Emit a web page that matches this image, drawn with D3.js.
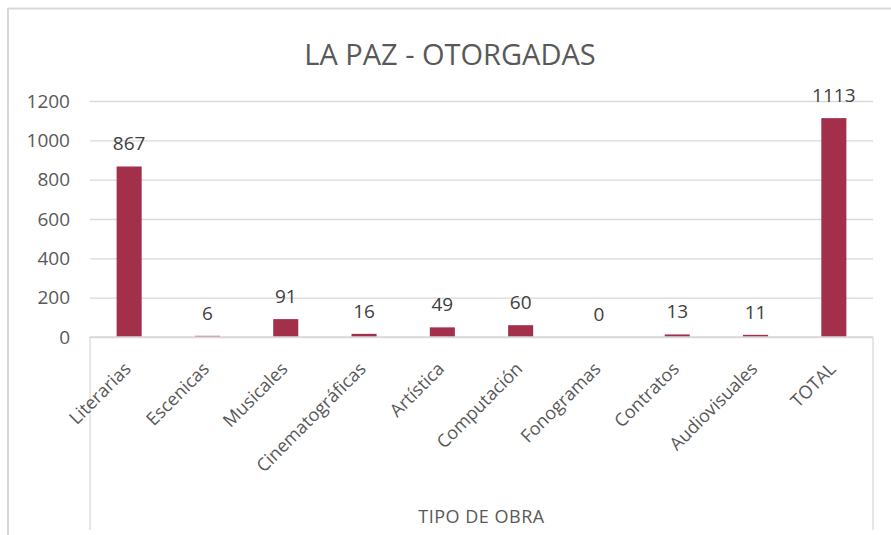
<!DOCTYPE html>
<html>
<head>
<meta charset="utf-8">
<script src="https://cdn.jsdelivr.net/npm/d3@7"></script>
<style>
  body { margin: 0; background: #fff; }
  text { font-family: "Open Sans", sans-serif; }
</style>
</head>
<body>
<svg id="chart" width="891" height="535"></svg>
<script>
// data
const categories = ["Literarias", "Escenicas", "Musicales", "Cinematográficas", "Artística",
  "Computación", "Fonogramas", "Contratos", "Audiovisuales", "TOTAL"];
const values = [867, 6, 91, 16, 49, 60, 0, 13, 11, 1113];
const yTicks = [0, 200, 400, 600, 800, 1000, 1200];

const svg = d3.select("#chart");
const plotLeft = 90, plotRight = 873, plotTop = 101, plotBottom = 337;

// outer frame (only top and left edges visible)
svg.append("line").attr("x1", 8).attr("x2", 891).attr("y1", 8.5).attr("y2", 8.5)
  .attr("stroke", "#d9d9d9").attr("stroke-width", 2);
svg.append("line").attr("x1", 8).attr("x2", 8).attr("y1", 8).attr("y2", 535)
  .attr("stroke", "#d9d9d9").attr("stroke-width", 2);

svg.append("text")
  .attr("x", 450).attr("y", 65)
  .attr("text-anchor", "middle")
  .attr("font-size", 29).attr("fill", "#595959")
  .text("LA PAZ - OTORGADAS");

const x = d3.scaleBand().domain(categories).range([plotLeft, plotRight]).paddingInner(0.68).paddingOuter(0.34);
const y = d3.scaleLinear().domain([0, 1200]).range([plotBottom, plotTop]);

// gridlines + y labels
const yAxis = svg.append("g")
  .attr("transform", `translate(${plotLeft},0)`)
  .call(d3.axisLeft(y).tickValues(yTicks).tickSize(-(plotRight - plotLeft)).tickPadding(20).tickFormat(d3.format("d")));
yAxis.select(".domain").remove();
yAxis.selectAll(".tick line").attr("stroke", "#d9d9d9").attr("stroke-width", 1.3);
yAxis.selectAll(".tick text").attr("font-size", 19).attr("fill", "#595959")
  .attr("font-family", "Open Sans, sans-serif");

// bars
svg.append("g").selectAll("rect")
  .data(values)
  .join("rect")
  .attr("x", (d, i) => x(categories[i]))
  .attr("width", x.bandwidth())
  .attr("y", d => y(d))
  .attr("height", d => y(0) - y(d))
  .attr("fill", "#a3304b");

// data labels
svg.append("g").selectAll("text")
  .data(values)
  .join("text")
  .attr("x", (d, i) => x(categories[i]) + x.bandwidth() / 2)
  .attr("y", d => y(d) - 16)
  .attr("text-anchor", "middle")
  .attr("font-size", 19).attr("fill", "#404040")
  .text(d => d);

// category box below the axis
const box = svg.append("g").attr("stroke", "#d9d9d9").attr("stroke-width", 1.3);
box.append("line").attr("x1", plotLeft).attr("x2", plotRight).attr("y1", plotBottom).attr("y2", plotBottom);
box.append("line").attr("x1", plotLeft).attr("x2", plotLeft).attr("y1", plotBottom).attr("y2", 530);
box.append("line").attr("x1", plotRight).attr("x2", plotRight).attr("y1", plotBottom).attr("y2", 530);

// rotated category labels
svg.append("g").selectAll("text")
  .data(categories)
  .join("text")
  .attr("transform", d => `translate(${x(d) + x.bandwidth() / 2 + 3},${plotBottom + 33}) rotate(-45)`)
  .attr("text-anchor", "end")
  .attr("font-size", 18).attr("fill", "#595959")
  .text(d => d);

svg.append("text")
  .attr("x", (plotLeft + plotRight) / 2).attr("y", 523)
  .attr("text-anchor", "middle")
  .attr("font-size", 18).attr("letter-spacing", 0.5).attr("fill", "#595959")
  .text("TIPO DE OBRA");
</script>
</body>
</html>
